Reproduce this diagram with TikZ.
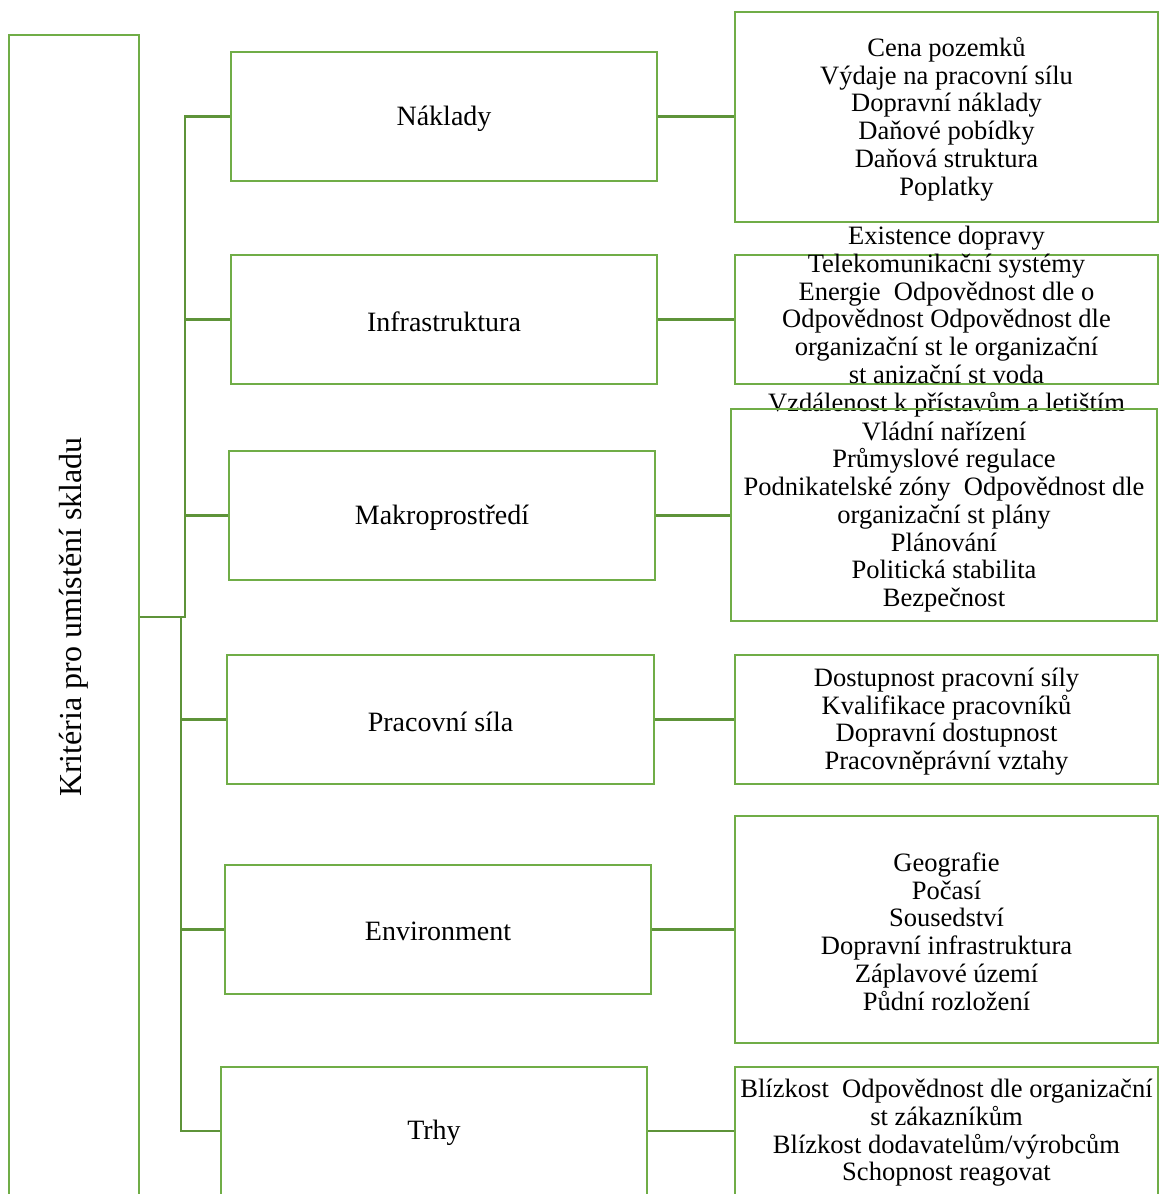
\documentclass[tikz,border=0pt]{standalone}
\usepackage{fontspec}
\setmainfont{Liberation Serif}
\definecolor{boxgreen}{HTML}{70AD47}
\definecolor{linegreen}{HTML}{5E9339}
\begin{document}
\begin{tikzpicture}[x=0.75pt,y=-0.75pt,
  box/.style={draw=boxgreen,line width=2.2pt,rectangle,inner sep=0pt,anchor=center},
  txt/.style={align=center,inner sep=0pt,yshift=-1.5pt,font=\fontsize{19.9}{20.8}\selectfont},
  mtxt/.style={align=center,inner sep=0pt,yshift=-1.5pt,font=\fontsize{21}{24}\selectfont},
  ltxt/.style={align=center,inner sep=0pt,font=\fontsize{24}{28}\selectfont},
  conn/.style={draw=linegreen,line width=2.2pt}]
\clip (0,0) rectangle (1160,1194);
\fill[white] (0,0) rectangle (1160,1194);
% left box
\node[box,minimum width=130*0.75pt,minimum height=1164*0.75pt] (L) at (74,617) {};
\node[ltxt,rotate=90] (Lt) at (L.center) {Kritéria pro umístění skladu};
% middle boxes
\node[box,minimum width=426*0.75pt,minimum height=129*0.75pt] (n1) at (444,116.5) {};
\node[mtxt] at (n1.center) {Náklady};
\node[box,minimum width=426*0.75pt,minimum height=129*0.75pt] (n2) at (444,319.5) {};
\node[mtxt] at (n2.center) {Infrastruktura};
\node[box,minimum width=426*0.75pt,minimum height=129*0.75pt] (n3) at (442,515.5) {};
\node[mtxt] at (n3.center) {Makroprostředí};
\node[box,minimum width=427*0.75pt,minimum height=129*0.75pt] (n4) at (440.5,719.5) {};
\node[mtxt] at (n4.center) {Pracovní síla};
\node[box,minimum width=426*0.75pt,minimum height=129*0.75pt] (n5) at (438,929.5) {};
\node[mtxt] at (n5.center) {Environment};
\node[box,minimum width=426*0.75pt,minimum height=128*0.75pt] (n6) at (434,1131) {};
\node[mtxt] at (n6.center) {Trhy};
% right boxes
\node[box,minimum width=423*0.75pt,minimum height=210*0.75pt] (r1) at (946.5,117) {};
\node[txt] at (r1.center) {Cena pozemků\\Výdaje na pracovní sílu\\Dopravní náklady\\Daňové pobídky\\Daňová struktura\\Poplatky};
\node[box,minimum width=423*0.75pt,minimum height=129*0.75pt] (r2) at (946.5,319.5) {};
\node[txt] at (r2.center) {Existence dopravy\\Telekomunikační systémy\\Energie\ \ Odpovědnost dle o\\Odpovědnost Odpovědnost dle\\organizační st le organizační\\st anizační st voda\\Vzdálenost k přístavům a letištím};
\node[box,minimum width=426*0.75pt,minimum height=212*0.75pt] (r3) at (944,515) {};
\node[txt] at (r3.center) {Vládní nařízení\\Průmyslové regulace\\Podnikatelské zóny\ \ Odpovědnost dle\\organizační st plány\\Plánování\\Politická stabilita\\Bezpečnost};
\node[box,minimum width=423*0.75pt,minimum height=129*0.75pt] (r4) at (946.5,719.5) {};
\node[txt] at (r4.center) {Dostupnost pracovní síly\\Kvalifikace pracovníků\\Dopravní dostupnost\\Pracovněprávní vztahy};
\node[box,minimum width=423*0.75pt,minimum height=227*0.75pt] (r5) at (946.5,929.5) {};
\node[txt] at (r5.center) {Geografie\\Počasí\\Sousedství\\Dopravní infrastruktura\\Záplavové území\\Půdní rozložení};
\node[box,minimum width=423*0.75pt,minimum height=128*0.75pt] (r6) at (946.5,1131) {};
\node[txt] at (r6.center) {Blízkost\ \ Odpovědnost dle organizační\\st zákazníkům\\Blízkost dodavatelům/výrobcům\\Schopnost reagovat};
% connectors
\coordinate (ju) at (185,617);
\coordinate (jd) at (181,617);
\draw[conn] (L.east) -- (ju) |- (n1.west);
\draw[conn] (ju) |- (n2.west);
\draw[conn] (ju) |- (n3.west);
\draw[conn] (L.east) -- (jd) |- (n4.west);
\draw[conn] (jd) |- (n5.west);
\draw[conn] (jd) |- (n6.west);
\draw[conn] (n1.east) -- (n1.east -| r1.west);
\draw[conn] (n2.east) -- (n2.east -| r2.west);
\draw[conn] (n3.east) -- (n3.east -| r3.west);
\draw[conn] (n4.east) -- (n4.east -| r4.west);
\draw[conn] (n5.east) -- (n5.east -| r5.west);
\draw[conn] (n6.east) -- (n6.east -| r6.west);
\end{tikzpicture}
\end{document}
